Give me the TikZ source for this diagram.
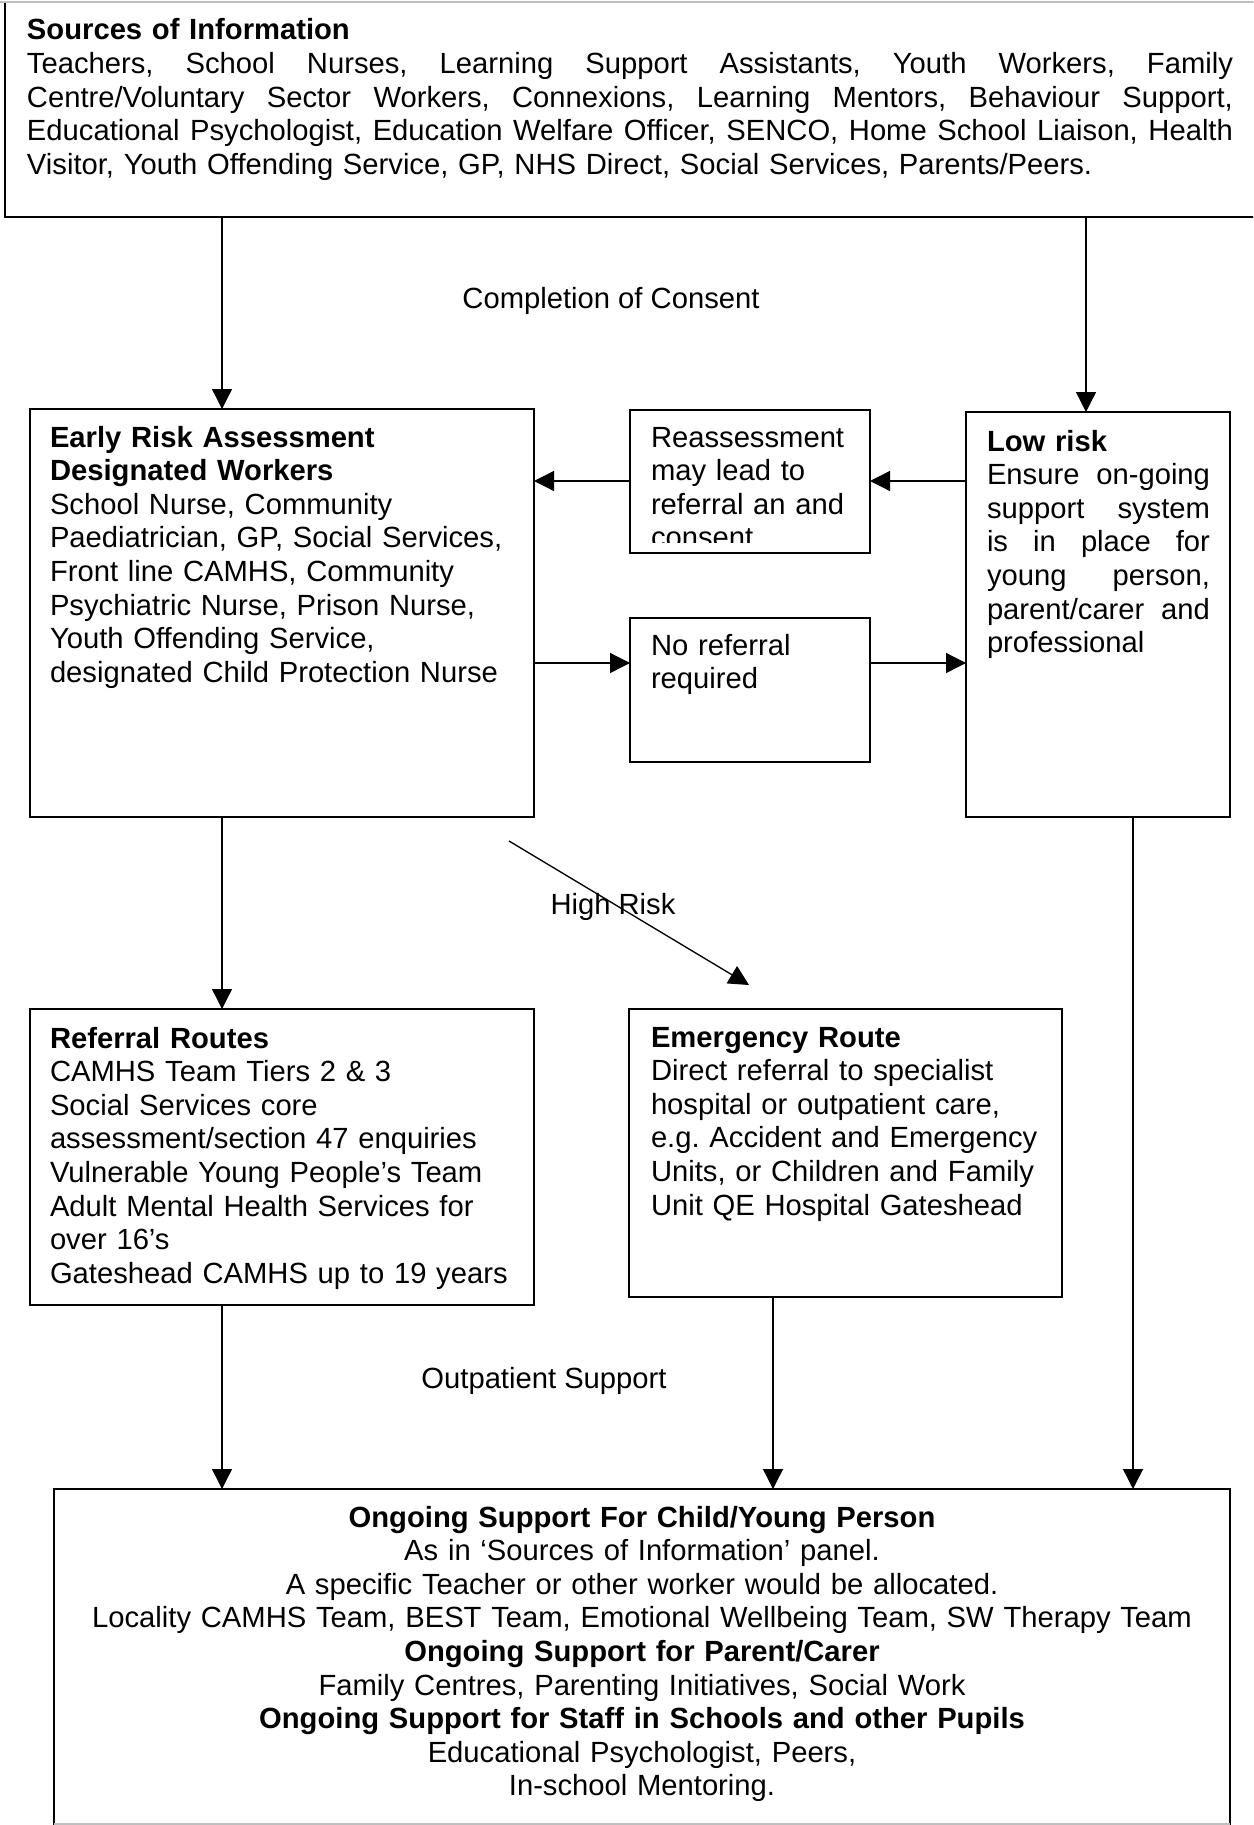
\documentclass[tikz,border=0pt]{standalone}
\usepackage{fontspec}
\setmainfont{Liberation Sans}
\usetikzlibrary{arrows.meta}
\newcommand{\jl}[2]{\leavevmode\hbox to #1{#2}}
\newcommand{\g}{\hfill}
\frenchspacing
\begin{document}
\begin{tikzpicture}[x=1pt,y=-1pt,
  box/.style={draw, line width=1.3pt, inner sep=0pt, outer sep=0pt, anchor=north west, rectangle},
  edgegray/.style={draw=black!25, line width=1.3pt},
  arr/.style={line width=1.3pt, -{Triangle[length=20pt,width=20pt]}},
  txt/.style={inner sep=0pt, outer sep=0pt, anchor=base west, align=left, font=\fontsize{29.2}{33.6}\selectfont},
  lbl/.style={inner sep=0pt, outer sep=0pt, anchor=base, font=\fontsize{29.2}{33.6}\selectfont}]
\useasboundingbox (0,0) rectangle (1253,1825);
\clip (0,0) rectangle (1253,1825);

% boxes
\node[box, minimum width=1257pt, minimum height=215pt] (top) at (5,2) {};
\node[box, minimum width=504pt, minimum height=408pt] (era) at (30,409) {};
\node[box, minimum width=240pt, minimum height=143pt] (reas) at (630,410) {};
\node[box, minimum width=240pt, minimum height=144pt] (noref) at (630,618) {};
\node[box, minimum width=264pt, minimum height=405pt] (low) at (966,412) {};
\node[box, minimum width=504pt, minimum height=296pt] (refr) at (30,1009) {};
\node[box, minimum width=433pt, minimum height=288pt] (emer) at (629,1009) {};
\node[box, minimum width=1176pt, minimum height=335pt] (bot) at (54,1489) {};
\draw[edgegray] (0,2) -- (top.north east);
\draw[edgegray] (bot.south west) -- (bot.south east);

% texts
\node[txt, text width=1206pt] (toptxt) at (27,40) {\textbf{Sources of Information}\\
\jl{1206pt}{Teachers,\g School\g Nurses,\g Learning\g Support\g Assistants,\g Youth\g Workers,\g Family}\\
\jl{1206pt}{Centre/Voluntary\g Sector\g Workers,\g Connexions,\g Learning\g Mentors,\g Behaviour\g Support,}\\
\jl{1206pt}{Educational\g Psychologist,\g Education\g Welfare\g Officer,\g SENCO,\g Home\g School\g Liaison,\g Health}\\
Visitor, Youth Offending Service, GP, NHS Direct, Social Services, Parents/Peers.};

\node[txt, text width=480pt] (eratxt) at (50,447) {\textbf{Early Risk Assessment}\\
\textbf{Designated Workers}\\
School Nurse, Community\\
Paediatrician, GP, Social Services,\\
Front line CAMHS, Community\\
Psychiatric Nurse, Prison Nurse,\\
Youth Offending Service,\\
designated Child Protection Nurse};

\coordinate (rclip) at (870,542);
\begin{scope}
\clip (reas.north west) rectangle (rclip);
\node[txt, text width=215pt] (reastxt) at (651,447) {Reassessment\\
may lead to\\
referral an and\\
consent};
\end{scope}

\node[txt, text width=215pt] (noreftxt) at (651,655) {No referral\\ required};

\node[txt, text width=223pt] (lowtxt) at (987,451) {\textbf{Low risk}\\
\jl{223pt}{Ensure\g on-going}\\
\jl{223pt}{support\g system}\\
\jl{223pt}{is\g in\g place\g for}\\
\jl{223pt}{young\g person,}\\
\jl{223pt}{parent/carer\g and}\\
professional};

\node[txt, text width=480pt] (refrtxt) at (50,1048) {\textbf{Referral Routes}\\
CAMHS Team Tiers 2 \& 3\\
Social Services core\\
assessment/section 47 enquiries\\
Vulnerable Young People’s Team\\
Adult Mental Health Services for\\
over 16’s\\
Gateshead CAMHS up to 19 years};

\node[txt, text width=405pt] (emertxt) at (651,1047) {\textbf{Emergency Route}\\
Direct referral to specialist\\
hospital or outpatient care,\\
e.g. Accident and Emergency\\
Units, or Children and Family\\
Unit QE Hospital Gateshead};

\node[lbl, text width=1150pt, align=center] (bottxt) at (642,1527) {\textbf{Ongoing Support For Child/Young Person}\\
As in ‘Sources of Information’ panel.\\
A specific Teacher or other worker would be allocated.\\
Locality CAMHS Team, BEST Team, Emotional Wellbeing Team, SW Therapy Team\\
\textbf{Ongoing Support for Parent/Carer}\\
Family Centres, Parenting Initiatives, Social Work\\
\textbf{Ongoing Support for Staff in Schools and other Pupils}\\
Educational Psychologist, Peers,\\
In-school Mentoring.};

\node[lbl] (cc) at (611,308) {Completion of Consent};
\node[lbl] (hr) at (613,914) {High Risk};
\node[lbl] (os) at (544,1388) {Outpatient Support};

% connectors
\coordinate (xA) at (222,0);
\coordinate (xB) at (1086,0);
\coordinate (xC) at (773,0);
\coordinate (xD) at (1133,0);
\coordinate (yR) at (0,481);
\coordinate (yN) at (0,663);
\coordinate (hr1) at (509,841);
\coordinate (hr2) at (749,985);
\draw[arr] (top.south -| xA) -- (era.north -| xA);
\draw[arr] (top.south -| xB) -- (low.north -| xB);
\draw[arr] (low.west |- yR) -- (reas.east |- yR);
\draw[arr] (reas.west |- yR) -- (era.east |- yR);
\draw[arr] (era.east |- yN) -- (noref.west |- yN);
\draw[arr] (noref.east |- yN) -- (low.west |- yN);
\draw[arr] (era.south -| xA) -- (refr.north -| xA);
\draw[arr] (hr1) -- (hr2);
\draw[arr] (refr.south -| xA) -- (bot.north -| xA);
\draw[arr] (emer.south -| xC) -- (bot.north -| xC);
\draw[arr] (low.south -| xD) -- (bot.north -| xD);
\end{tikzpicture}
\end{document}
